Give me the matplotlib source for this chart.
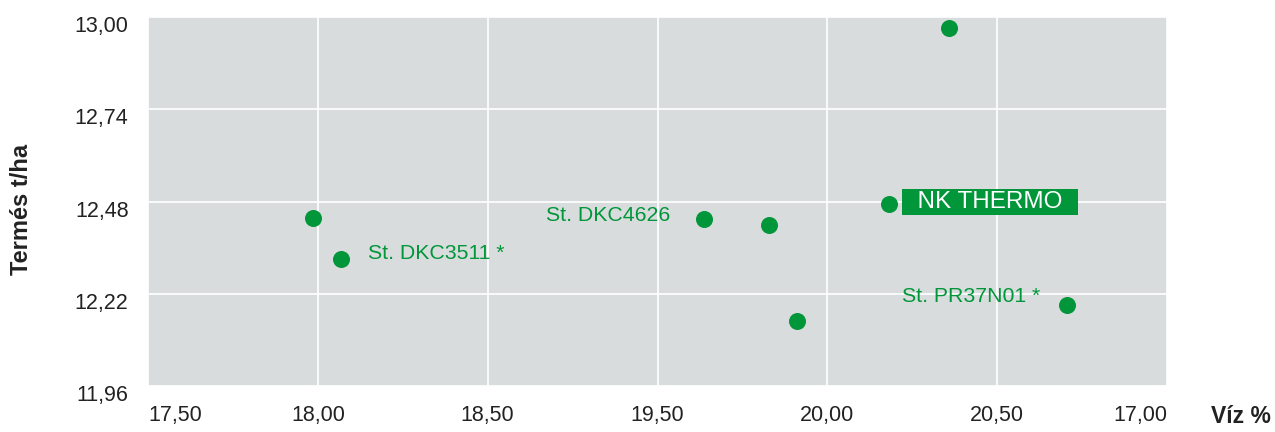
import matplotlib.pyplot as plt
import matplotlib.transforms as mtransforms

plt.rcParams['font.family'] = ['Liberation Sans', 'DejaVu Sans']

# Data
viz = [17.986, 18.068, 19.137, 19.329, 19.411, 19.682, 19.859, 20.206]
termes = [12.433, 12.319, 12.432, 12.415, 12.144, 12.472, 12.969, 12.189]

x_ticks = [17.5, 18.0, 18.5, 19.0, 19.5, 20.0, 20.5]
x_labels = ['17,50', '18,00', '18,50', '19,50', '20,00', '20,50', '17,00']
y_ticks = [11.96, 12.22, 12.48, 12.74, 13.00]
y_labels = ['11,96', '12,22', '12,48', '12,74', '13,00']

green = '#009639'
txt = '#222222'

fig = plt.figure(figsize=(12.75, 4.32), dpi=100)
ax = fig.add_axes([0.1161, 0.1065, 0.7992, 0.8541])
ax.set_facecolor('#D9DCDD')
for s in ax.spines.values():
    s.set_visible(False)

ax.set_xlim(17.5, 20.5)
ax.set_ylim(11.96, 13.00)
ax.set_xticks(x_ticks)
ax.set_xticklabels(x_labels)
ax.set_yticks(y_ticks)
ax.set_yticklabels(y_labels)
ax.tick_params(length=0, labelsize=15.5, colors=txt)
ax.tick_params(axis='y', pad=14)
ax.tick_params(axis='x', pad=14)
xt = ax.get_xticklabels()
xt[0].set_ha('left')
xt[-1].set_ha('right')
# y labels sit a little below their grid lines in the reference
shift = mtransforms.ScaledTranslation(0, -0.07, fig.dpi_scale_trans)
for lab in ax.get_yticklabels():
    lab.set_transform(lab.get_transform() + shift)
ax.grid(True, color='white', linewidth=1.2)
ax.set_axisbelow(True)

ax.scatter(viz, termes, s=150, color=green, zorder=3, linewidths=0)

# point labels
ax.annotate('St. DKC3511 *', (viz[1], termes[1]), xytext=(27, 5),
            textcoords='offset pixels', ha='left', va='center',
            fontsize=15.3, color=green)
ax.annotate('St. DKC4626', (viz[2], termes[2]), xytext=(-34, 3),
            textcoords='offset pixels', ha='right', va='center',
            fontsize=15.3, color=green)
ax.annotate('St. PR37N01 *', (viz[7], termes[7]), xytext=(-27, 8),
            textcoords='offset pixels', ha='right', va='center',
            fontsize=15.3, color=green)
ax.annotate('  NK THERMO  ', (viz[5], termes[5]), xytext=(101, 2),
            textcoords='offset pixels', ha='center', va='center',
            fontsize=17.5, color='white',
            bbox=dict(boxstyle='square,pad=0.08', fc=green, ec='none'))

fig.text(0.017, 0.515, 'Termés t/ha', rotation=90, ha='center', va='center',
         fontsize=17, fontweight='bold', color=txt)
fig.text(0.997, 0.035, 'Víz %', ha='right', va='center',
         fontsize=16.5, fontweight='bold', color=txt)

fig.savefig('out.png', dpi=100)
